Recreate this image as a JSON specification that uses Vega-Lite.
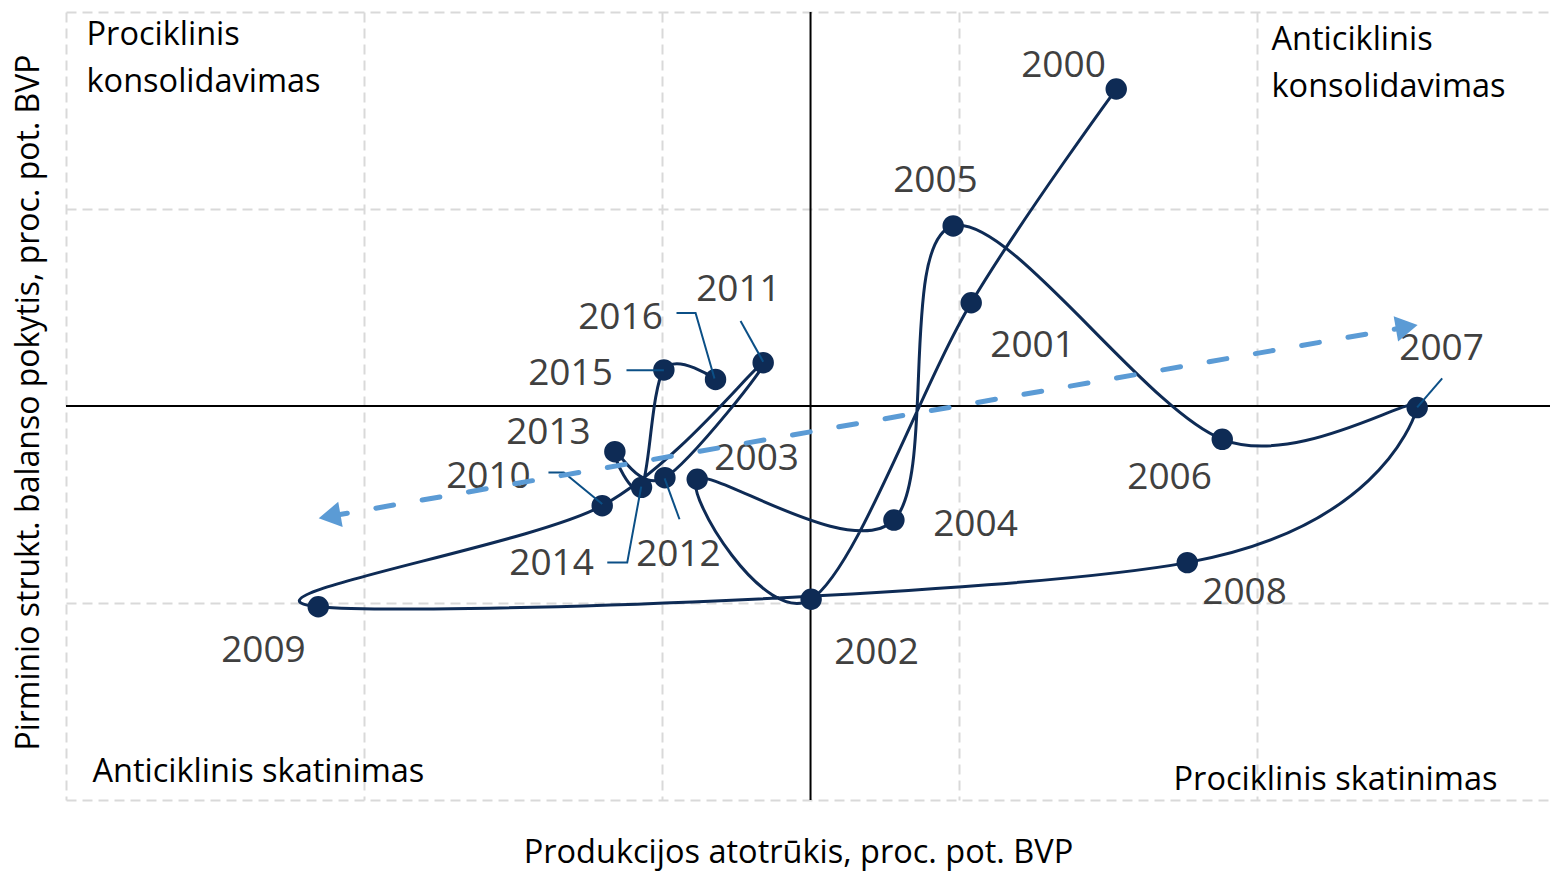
{
  "$schema": "https://vega.github.io/schema/vega-lite/v6.json",
  "width": 1484,
  "height": 788,
  "autosize": {"type": "none"},
  "padding": {"left": 66, "top": 12, "right": 0, "bottom": 72},
  "background": "white",
  "config": {"view": {"stroke": null}, "font": "Open Sans"},
  "datasets": {
    "pts": [
      {"year": 2000, "gap": 2.053, "bal": 1.609},
      {"year": 2001, "gap": 1.079, "bal": 0.524},
      {"year": 2002, "gap": 0.004, "bal": -0.981},
      {"year": 2003, "gap": -0.761, "bal": -0.372},
      {"year": 2004, "gap": 0.560, "bal": -0.579},
      {"year": 2005, "gap": 0.958, "bal": 0.914},
      {"year": 2006, "gap": 2.765, "bal": -0.169},
      {"year": 2007, "gap": 4.074, "bal": -0.008},
      {"year": 2008, "gap": 2.530, "bal": -0.795},
      {"year": 2009, "gap": -3.306, "bal": -1.019},
      {"year": 2010, "gap": -1.399, "bal": -0.506},
      {"year": 2011, "gap": -0.318, "bal": 0.220},
      {"year": 2012, "gap": -0.978, "bal": -0.364},
      {"year": 2013, "gap": -1.314, "bal": -0.232},
      {"year": 2014, "gap": -1.135, "bal": -0.413},
      {"year": 2015, "gap": -0.985, "bal": 0.183},
      {"year": 2016, "gap": -0.638, "bal": 0.135}
    ],
    "labels": [
      {"text": "2000", "gap": 1.699, "bal": 1.726},
      {"text": "2001", "gap": 1.491, "bal": 0.305},
      {"text": "2002", "gap": 0.443, "bal": -1.254},
      {"text": "2003", "gap": -0.362, "bal": -0.269},
      {"text": "2004", "gap": 1.108, "bal": -0.604},
      {"text": "2005", "gap": 0.839, "bal": 1.142},
      {"text": "2006", "gap": 2.411, "bal": -0.365},
      {"text": "2007", "gap": 4.238, "bal": 0.289},
      {"text": "2008", "gap": 2.915, "bal": -0.949},
      {"text": "2009", "gap": -3.674, "bal": -1.244},
      {"text": "2010", "gap": -2.163, "bal": -0.360},
      {"text": "2011", "gap": -0.484, "bal": 0.589},
      {"text": "2012", "gap": -0.887, "bal": -0.757},
      {"text": "2013", "gap": -1.760, "bal": -0.137},
      {"text": "2014", "gap": -1.739, "bal": -0.802},
      {"text": "2015", "gap": -1.612, "bal": 0.162},
      {"text": "2016", "gap": -1.276, "bal": 0.449}
    ],
    "leaders": [
      {"id": "2016", "seq": 0, "gap": -0.900, "bal": 0.472},
      {"id": "2016", "seq": 1, "gap": -0.772, "bal": 0.472},
      {"id": "2016", "seq": 2, "gap": -0.645, "bal": 0.140},
      {"id": "2015", "seq": 0, "gap": -1.236, "bal": 0.181},
      {"id": "2015", "seq": 1, "gap": -0.985, "bal": 0.181},
      {"id": "2011", "seq": 0, "gap": -0.470, "bal": 0.431},
      {"id": "2011", "seq": 1, "gap": -0.318, "bal": 0.225},
      {"id": "2010", "seq": 0, "gap": -1.760, "bal": -0.338},
      {"id": "2010", "seq": 1, "gap": -1.657, "bal": -0.338},
      {"id": "2010", "seq": 2, "gap": -1.399, "bal": -0.497},
      {"id": "2014", "seq": 0, "gap": -1.365, "bal": -0.795},
      {"id": "2014", "seq": 1, "gap": -1.231, "bal": -0.795},
      {"id": "2014", "seq": 2, "gap": -1.137, "bal": -0.409},
      {"id": "2012", "seq": 0, "gap": -0.880, "bal": -0.575},
      {"id": "2012", "seq": 1, "gap": -0.980, "bal": -0.367},
      {"id": "2007", "seq": 0, "gap": 4.242, "bal": 0.140},
      {"id": "2007", "seq": 1, "gap": 4.074, "bal": -0.007}
    ],
    "quads": [
      {"text": "Prociklinis\nkonsolidavimas", "gap": -4.862, "bal": 1.883},
      {"text": "Anticiklinis\nkonsolidavimas", "gap": 3.096, "bal": 1.858},
      {"text": "Anticiklinis skatinimas", "gap": -4.822, "bal": -1.858},
      {"text": "Prociklinis skatinimas", "gap": 2.438, "bal": -1.898}
    ],
    "trend": [
      {"dir": "left", "gap": -3.230, "bal": -0.560},
      {"dir": "right", "gap": 4.004, "bal": 0.401}
    ]
  },
  "layer": [
    {
      "data": {"values": [{"z": 0}]},
      "mark": {"type": "rule", "color": "#000000", "strokeWidth": 2},
      "encoding": {
        "x": {
          "field": "z", "type": "quantitative",
          "scale": {"domain": [-5, 4.966], "nice": false, "zero": false},
          "axis": {
            "title": "Produkcijos atotrūkis, proc. pot. BVP",
            "values": [-5, -3, -1, 1, 3],
            "labels": false, "ticks": false, "domain": false,
            "grid": true, "gridColor": "#d9d9d9", "gridDash": [10, 6], "gridWidth": 2,
            "titleFont": "Open Sans", "titleFontSize": 32.5, "titleFontWeight": "normal",
            "titleColor": "#000000", "titleX": 732, "titleY": 52,
            "titleAlign": "center", "titleBaseline": "middle"
          }
        }
      }
    },
    {
      "data": {"values": [{"z": 0}]},
      "mark": {"type": "rule", "color": "#000000", "strokeWidth": 2},
      "encoding": {
        "y": {
          "field": "z", "type": "quantitative",
          "scale": {"domain": [-2, 2], "nice": false, "zero": false},
          "axis": {
            "title": "Pirminio strukt. balanso pokytis, proc. pot. BVP",
            "values": [-2, -1, 1, 2],
            "labels": false, "ticks": false, "domain": false,
            "grid": true, "gridColor": "#d9d9d9", "gridDash": [10, 6], "gridWidth": 2,
            "titleFont": "Open Sans", "titleFontSize": 32, "titleFontWeight": "normal",
            "titleColor": "#000000", "titleX": -38, "titleY": 390,
            "titleAngle": -90, "titleAlign": "center", "titleBaseline": "middle"
          }
        }
      }
    },
    {
      "data": {"name": "pts"},
      "mark": {"type": "line", "interpolate": "cardinal", "color": "#0e2b55", "strokeWidth": 3},
      "encoding": {
        "x": {"field": "gap", "type": "quantitative"},
        "y": {"field": "bal", "type": "quantitative"},
        "order": {"field": "year", "type": "quantitative"}
      }
    },
    {
      "data": {"name": "pts"},
      "mark": {"type": "point", "filled": true, "opacity": 1, "color": "#0e2b55", "size": 460, "shape": "circle"},
      "encoding": {
        "x": {"field": "gap", "type": "quantitative"},
        "y": {"field": "bal", "type": "quantitative"}
      }
    },
    {
      "data": {"name": "leaders"},
      "mark": {"type": "line", "color": "#0b4f86", "strokeWidth": 2},
      "encoding": {
        "x": {"field": "gap", "type": "quantitative"},
        "y": {"field": "bal", "type": "quantitative"},
        "detail": {"field": "id", "type": "nominal"},
        "order": {"field": "seq", "type": "quantitative"}
      }
    },
    {
      "data": {"name": "labels"},
      "mark": {"type": "text", "font": "Open Sans", "fontSize": 37, "color": "#404040", "align": "center", "baseline": "middle"},
      "encoding": {
        "x": {"field": "gap", "type": "quantitative"},
        "y": {"field": "bal", "type": "quantitative"},
        "text": {"field": "text", "type": "nominal"}
      }
    },
    {
      "data": {"name": "quads"},
      "mark": {"type": "text", "font": "Open Sans", "fontSize": 32.5, "color": "#000000", "align": "left", "baseline": "middle", "lineBreak": "\n", "lineHeight": 47},
      "encoding": {
        "x": {"field": "gap", "type": "quantitative"},
        "y": {"field": "bal", "type": "quantitative"},
        "text": {"field": "text", "type": "nominal"}
      }
    },
    {
      "data": {"name": "trend"},
      "mark": {"type": "line", "color": "#5b9bd5", "strokeWidth": 5, "strokeDash": [18, 29], "strokeCap": "round"},
      "encoding": {
        "x": {"field": "gap", "type": "quantitative"},
        "y": {"field": "bal", "type": "quantitative"}
      }
    },
    {
      "data": {"name": "trend"},
      "mark": {"type": "point", "filled": true, "opacity": 1, "color": "#5b9bd5", "size": 650, "angle": -10},
      "encoding": {
        "x": {"field": "gap", "type": "quantitative"},
        "y": {"field": "bal", "type": "quantitative"},
        "shape": {"field": "dir", "type": "nominal", "scale": {"domain": ["left", "right"], "range": ["triangle-left", "triangle-right"]}, "legend": null}
      }
    }
  ]
}
